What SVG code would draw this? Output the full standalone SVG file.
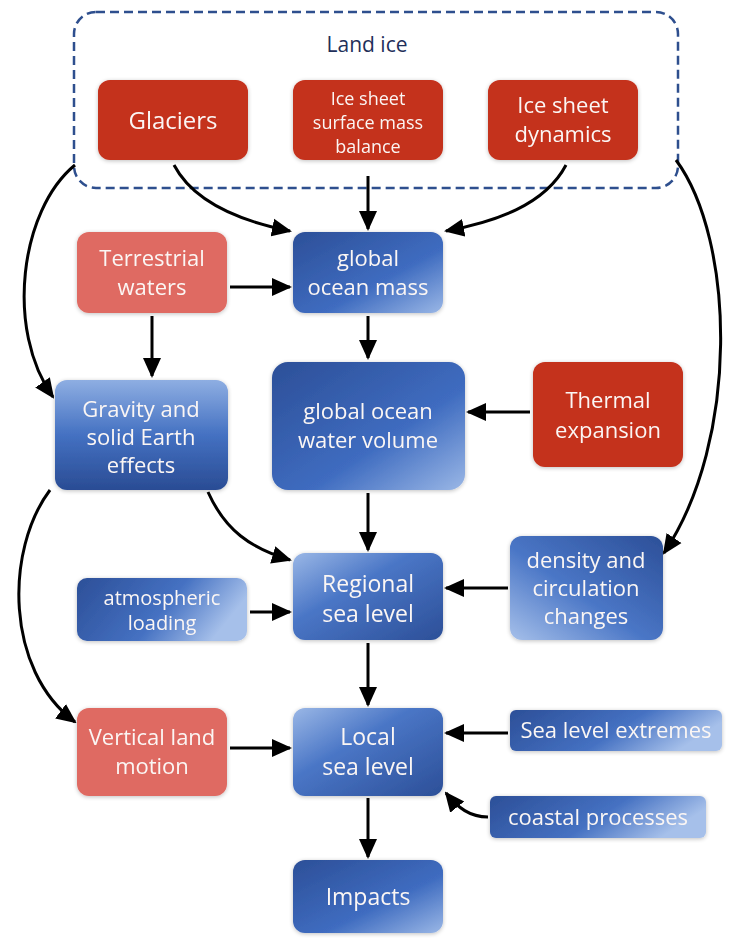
<svg xmlns="http://www.w3.org/2000/svg" width="732" height="944" viewBox="0 0 732 944">
<defs>
<style>
.t{font-family:"Open Sans","Liberation Sans",sans-serif;fill:#fbf6f4;text-anchor:middle}
.c{fill:none;stroke:#000;stroke-width:3}
.red{fill:#c4301b}
.pink{fill:#df6a62}
</style>
<marker id="ah" markerUnits="userSpaceOnUse" markerWidth="20" markerHeight="20" viewBox="0 0 20 20" refX="18" refY="10" orient="auto">
<path d="M0,1 L20,10 L0,19 Z" fill="#000"/>
</marker>
<linearGradient id="gTLBR" x1="0" y1="0" x2="1" y2="1">
<stop offset="0" stop-color="#2c4f98"/><stop offset="0.6" stop-color="#3f6cc0"/><stop offset="1" stop-color="#9ab7e6"/>
</linearGradient>
<linearGradient id="gLightTL" x1="0" y1="0" x2="1" y2="1">
<stop offset="0" stop-color="#9ab7e6"/><stop offset="0.4" stop-color="#4a76c6"/><stop offset="1" stop-color="#2c4f98"/>
</linearGradient>
<linearGradient id="gTopLight" x1="0" y1="0" x2="0" y2="1">
<stop offset="0" stop-color="#8eaee2"/><stop offset="0.5" stop-color="#4471c2"/><stop offset="1" stop-color="#2a4c94"/>
</linearGradient>
<linearGradient id="gTRBL" x1="1" y1="0" x2="0" y2="1">
<stop offset="0" stop-color="#2c4f98"/><stop offset="0.55" stop-color="#4a76c6"/><stop offset="1" stop-color="#a6c0ea"/>
</linearGradient>
<linearGradient id="gLR" x1="0" y1="0" x2="1" y2="0.3">
<stop offset="0" stop-color="#2c4f98"/><stop offset="0.6" stop-color="#4571c2"/><stop offset="1" stop-color="#a6c0ea"/>
</linearGradient>
<filter id="sh" x="-10%" y="-10%" width="120%" height="130%">
<feGaussianBlur in="SourceAlpha" stdDeviation="2"/>
<feOffset dy="1"/>
<feComponentTransfer><feFuncA type="linear" slope="0.25"/></feComponentTransfer>
<feMerge><feMergeNode/><feMergeNode in="SourceGraphic"/></feMerge>
</filter>
</defs>
<rect width="732" height="944" fill="#fff"/>

<g id="land-ice">
<rect x="74" y="12" width="604" height="176" rx="22" fill="none" stroke="#2e4f8e" stroke-width="2.5" stroke-dasharray="9,5"/>
<text x="367" y="52" font-family="'Open Sans','Liberation Sans',sans-serif" font-size="21" fill="#1f2f5a" text-anchor="middle">Land ice</text>
</g>

<g id="glaciers" filter="url(#sh)">
<rect class="red" x="98" y="80" width="150" height="80" rx="12"/>
<text class="t" x="173" y="129" font-size="24">Glaciers</text>
</g>
<g id="ice-sheet-smb" filter="url(#sh)">
<rect class="red" x="293" y="80" width="150" height="80" rx="12"/>
<text class="t" font-size="18"><tspan x="368" y="105">Ice sheet</tspan><tspan x="368" y="129">surface mass</tspan><tspan x="368" y="153">balance</tspan></text>
</g>
<g id="ice-sheet-dynamics" filter="url(#sh)">
<rect class="red" x="488" y="80" width="150" height="80" rx="12"/>
<text class="t" font-size="22"><tspan x="563" y="113">Ice sheet</tspan><tspan x="563" y="142">dynamics</tspan></text>
</g>

<g id="terrestrial-waters" filter="url(#sh)">
<rect class="pink" x="77" y="232" width="150" height="81" rx="12"/>
<text class="t" font-size="22"><tspan x="152" y="266">Terrestrial</tspan><tspan x="152" y="295">waters</tspan></text>
</g>
<g id="global-ocean-mass" filter="url(#sh)">
<rect x="293" y="232" width="150" height="81" rx="12" fill="url(#gTLBR)"/>
<text class="t" font-size="22"><tspan x="368" y="266">global</tspan><tspan x="368" y="295">ocean mass</tspan></text>
</g>

<g id="gravity" filter="url(#sh)">
<rect x="55" y="380" width="173" height="110" rx="12" fill="url(#gTopLight)"/>
<text class="t" font-size="22"><tspan x="141" y="417">Gravity and</tspan><tspan x="141" y="445">solid Earth</tspan><tspan x="141" y="473">effects</tspan></text>
</g>
<g id="global-ocean-water-volume" filter="url(#sh)">
<rect x="272" y="362" width="193" height="128" rx="16" fill="url(#gTLBR)"/>
<text class="t" font-size="22"><tspan x="368" y="419">global ocean</tspan><tspan x="368" y="448">water volume</tspan></text>
</g>
<g id="thermal-expansion" filter="url(#sh)">
<rect class="red" x="533" y="362" width="150" height="105" rx="12"/>
<text class="t" font-size="22"><tspan x="608" y="408">Thermal</tspan><tspan x="608" y="438">expansion</tspan></text>
</g>

<g id="density-circulation" filter="url(#sh)">
<rect x="510" y="536" width="153" height="104" rx="12" fill="url(#gTRBL)"/>
<text class="t" font-size="22"><tspan x="586" y="568">density and</tspan><tspan x="586" y="596">circulation</tspan><tspan x="586" y="624">changes</tspan></text>
</g>
<g id="regional-sea-level" filter="url(#sh)">
<rect x="293" y="553" width="150" height="87" rx="12" fill="url(#gLightTL)"/>
<text class="t" font-size="23"><tspan x="368" y="592">Regional</tspan><tspan x="368" y="622">sea level</tspan></text>
</g>
<g id="atmospheric-loading" filter="url(#sh)">
<rect x="77" y="578" width="170" height="63" rx="10" fill="url(#gLR)"/>
<text class="t" font-size="20"><tspan x="162" y="605">atmospheric</tspan><tspan x="162" y="630">loading</tspan></text>
</g>

<g id="vertical-land-motion" filter="url(#sh)">
<rect class="pink" x="77" y="708" width="150" height="88" rx="12"/>
<text class="t" font-size="22"><tspan x="152" y="745">Vertical land</tspan><tspan x="152" y="774">motion</tspan></text>
</g>
<g id="local-sea-level" filter="url(#sh)">
<rect x="293" y="708" width="150" height="88" rx="12" fill="url(#gLightTL)"/>
<text class="t" font-size="23"><tspan x="368" y="745">Local</tspan><tspan x="368" y="775">sea level</tspan></text>
</g>
<g id="sea-level-extremes" filter="url(#sh)">
<rect x="510" y="710" width="212" height="41" rx="6" fill="url(#gLR)"/>
<text class="t" x="616" y="738" font-size="22">Sea level extremes</text>
</g>
<g id="coastal-processes" filter="url(#sh)">
<rect x="490" y="796" width="216" height="42" rx="6" fill="url(#gLR)"/>
<text class="t" x="598" y="825" font-size="22">coastal processes</text>
</g>

<g id="impacts" filter="url(#sh)">
<rect x="293" y="860" width="150" height="73" rx="12" fill="url(#gTLBR)"/>
<text class="t" x="368" y="905" font-size="23">Impacts</text>
</g>

<g id="connectors">
<path class="c" d="M174,165 C195,205 245,222 290,231" marker-end="url(#ah)"/>
<path class="c" d="M368,176 L368,229" marker-end="url(#ah)"/>
<path class="c" d="M566,165 C545,205 495,222 446,231" marker-end="url(#ah)"/>
<path class="c" d="M75,165 C20,210 5,330 53,397" marker-end="url(#ah)"/>
<path class="c" d="M676,160 C735,240 740,440 664,553" marker-end="url(#ah)"/>
<path class="c" d="M230,287 L290,287" marker-end="url(#ah)"/>
<path class="c" d="M152,316 L152,376" marker-end="url(#ah)"/>
<path class="c" d="M368,316 L368,358" marker-end="url(#ah)"/>
<path class="c" d="M530,412 L468,412" marker-end="url(#ah)"/>
<path class="c" d="M208,492 C225,530 250,548 290,560" marker-end="url(#ah)"/>
<path class="c" d="M368,493 L368,550" marker-end="url(#ah)"/>
<path class="c" d="M508,588 L446,588" marker-end="url(#ah)"/>
<path class="c" d="M250,612 L290,612" marker-end="url(#ah)"/>
<path class="c" d="M50,490 C5,550 5,670 75,722" marker-end="url(#ah)"/>
<path class="c" d="M368,643 L368,705" marker-end="url(#ah)"/>
<path class="c" d="M230,748 L290,748" marker-end="url(#ah)"/>
<path class="c" d="M508,733 L446,733" marker-end="url(#ah)"/>
<path class="c" d="M488,817 C470,817 458,808 446,793" marker-end="url(#ah)"/>
<path class="c" d="M368,798 L368,857" marker-end="url(#ah)"/>
</g>
</svg>
